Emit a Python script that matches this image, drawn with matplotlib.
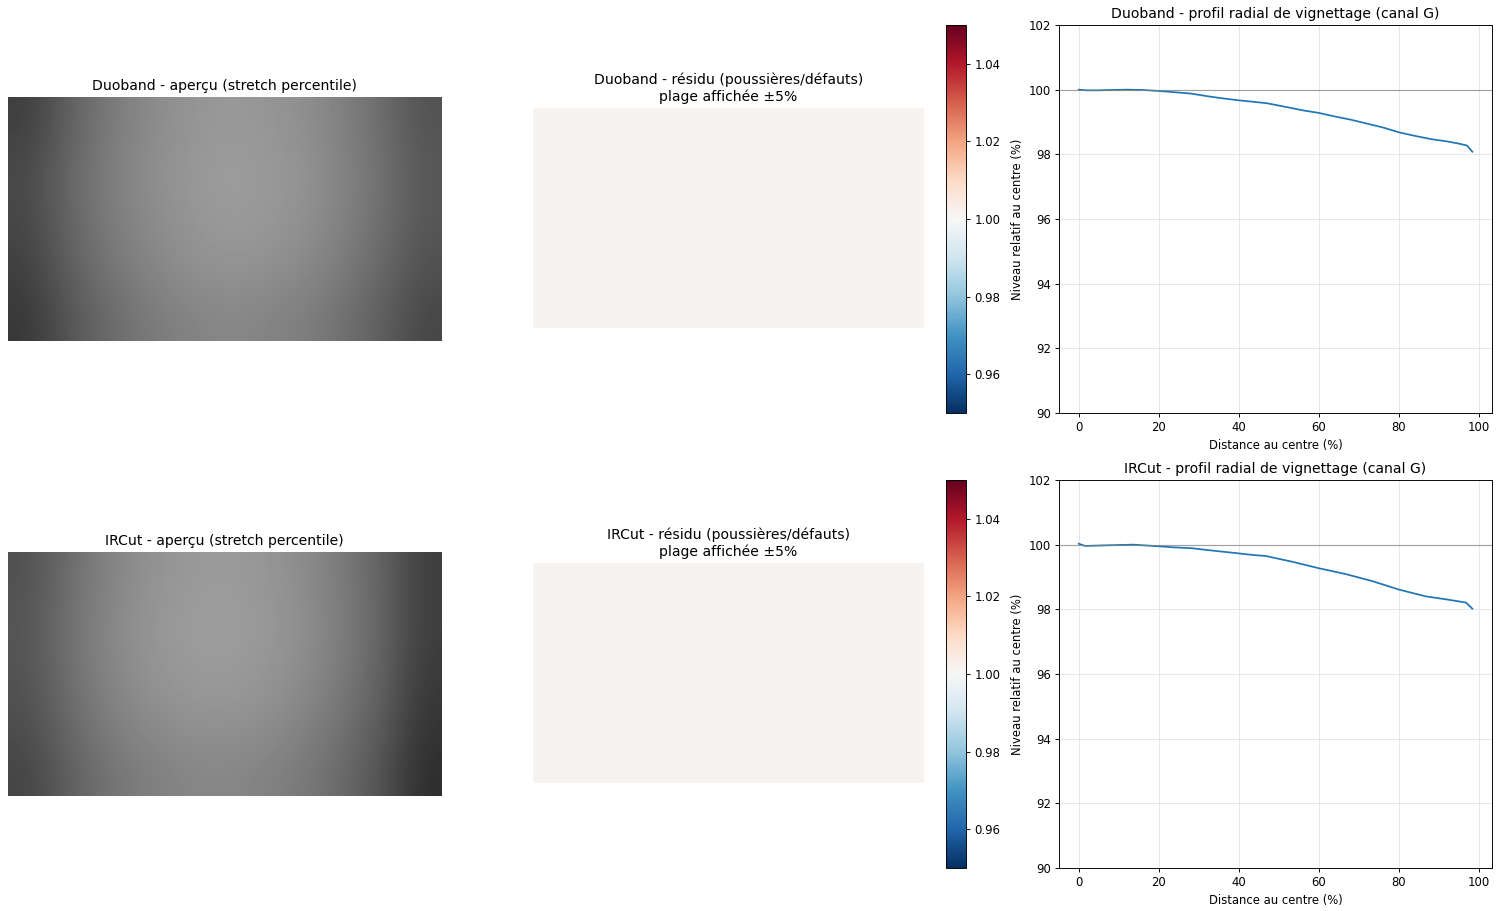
import numpy as np
import matplotlib
matplotlib.use("Agg")
import matplotlib.pyplot as plt

W, H = 1500, 911
S = 0.84  # font scale of the reference
plt.rcParams.update({
    "font.size": 10 * S,
    "axes.titlesize": 12 * S,
    "axes.labelsize": 10 * S,
    "xtick.labelsize": 10 * S,
    "ytick.labelsize": 10 * S,
    "axes.titlepad": 6 * S,
    "axes.linewidth": 0.8 * S,
    "xtick.major.width": 0.8 * S,
    "ytick.major.width": 0.8 * S,
    "xtick.major.size": 3.5 * S,
    "ytick.major.size": 3.5 * S,
    "xtick.major.pad": 3.5 * S,
    "ytick.major.pad": 3.5 * S,
    "axes.labelpad": 4 * S,
})

# --- preview images: coarse brightness grid (0-255) ---
duo_preview = [
    [62, 95, 120, 137, 147, 153, 150, 143, 128, 108, 82],
    [72, 102, 125, 140, 150, 157, 154, 147, 132, 112, 88],
    [70, 100, 122, 138, 148, 155, 152, 145, 130, 110, 86],
    [64, 94, 116, 132, 142, 148, 145, 138, 123, 104, 80],
    [55, 84, 105, 120, 130, 135, 132, 126, 112, 94, 70],
]
ircut_preview = [
    [80, 108, 130, 145, 152, 155, 150, 140, 122, 98, 62],
    [85, 112, 134, 148, 156, 158, 153, 143, 125, 100, 62],
    [82, 110, 132, 146, 153, 155, 150, 140, 122, 97, 58],
    [77, 104, 125, 138, 145, 147, 142, 132, 115, 91, 52],
    [68, 94, 114, 126, 133, 135, 130, 121, 105, 82, 45],
]

# --- residual maps (near 1.0 everywhere) ---
duo_residual = [
    [1.0015, 1.0015, 1.0015, 1.0015],
    [1.0015, 1.0015, 1.0015, 1.0015],
    [1.0015, 1.0015, 1.0015, 1.0015],
]
ircut_residual = [
    [1.0015, 1.0015, 1.0015, 1.0015],
    [1.0015, 1.0015, 1.0015, 1.0015],
    [1.0015, 1.0015, 1.0015, 1.0015],
]

# --- radial profiles ---
duo_dist = [0, 2, 5, 8, 12, 16, 20, 24, 28, 32, 36, 40, 44, 47, 52, 56, 60, 64,
            68, 72, 76, 80, 84, 88, 92, 95, 97, 98.3]
duo_level = [100.0, 99.98, 99.98, 99.99, 100.0, 99.99, 99.96, 99.92, 99.88, 99.80,
             99.73, 99.67, 99.62, 99.58, 99.46, 99.36, 99.28, 99.17, 99.07, 98.95,
             98.83, 98.68, 98.57, 98.47, 98.40, 98.33, 98.27, 98.08]
ircut_dist = [0, 1.6, 6.9, 13.6, 20, 23.3, 28.3, 31.7, 40, 43.6, 46.7, 53.4, 60,
              66.7, 73.4, 80, 86.7, 91.7, 96.7, 98.3]
ircut_level = [100.03, 99.96, 99.98, 100.0, 99.95, 99.92, 99.89, 99.84, 99.73,
               99.68, 99.65, 99.47, 99.27, 99.09, 98.87, 98.61, 98.40, 98.31,
               98.21, 98.02]

rows = [
    ("Duoband", duo_preview, duo_residual, duo_dist, duo_level),
    ("IRCut", ircut_preview, ircut_residual, ircut_dist, ircut_level),
]

fig = plt.figure(figsize=(15, 9.11), dpi=100)


def px(x0, y0, x1, y1):
    return [x0 / W, 1 - y1 / H, (x1 - x0) / W, (y1 - y0) / H]


for i, (name, prev, resid, dist, level) in enumerate(rows):
    dy = 455 * i
    # preview
    ax0 = fig.add_axes(px(8, 97 + dy, 441, 341 + dy))
    ax0.imshow(np.array(prev, dtype=float), cmap="gray", vmin=0, vmax=255,
               aspect="auto", interpolation="bicubic")
    ax0.set_title(f"{name} - aperçu (stretch percentile)")
    ax0.axis("off")

    # residual
    ax1 = fig.add_axes(px(533, 108 + dy, 924, 328 + dy))
    im = ax1.imshow(np.array(resid), cmap="RdBu_r", vmin=0.95, vmax=1.05,
                    aspect="auto", interpolation="nearest")
    ax1.set_title(f"{name} - résidu (poussières/défauts)\nplage affichée ±5%")
    ax1.axis("off")
    cax = fig.add_axes(px(946, 25 + dy, 966, 413 + dy))
    cb = fig.colorbar(im, cax=cax)
    cb.set_ticks([0.96, 0.98, 1.00, 1.02, 1.04])
    cb.outline.set_linewidth(0.8 * S)

    # radial profile
    ax2 = fig.add_axes(px(1059, 25 + dy, 1492, 413 + dy))
    ax2.plot(dist, level, color="#1f77b4", lw=1.5 * S)
    ax2.axhline(100, color="gray", lw=1 * S, alpha=0.7)
    ax2.set_ylim(90, 102)
    ax2.set_xticks([0, 20, 40, 60, 80, 100])
    ax2.grid(True, alpha=0.3, lw=0.8 * S)
    ax2.set_title(f"{name} - profil radial de vignettage (canal G)")
    ax2.set_xlabel("Distance au centre (%)")
    ax2.set_ylabel("Niveau relatif au centre (%)")

fig.savefig("out.png", dpi=100)
